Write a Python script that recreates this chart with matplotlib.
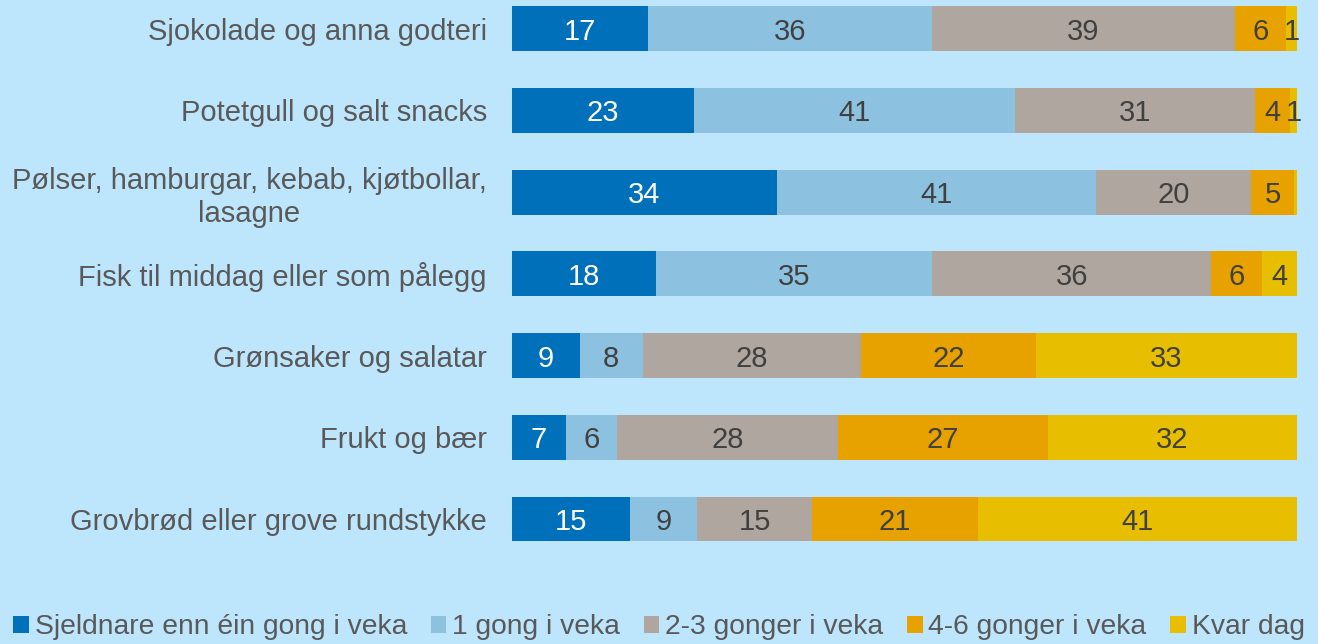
import matplotlib.pyplot as plt
import numpy as np
from matplotlib.patches import Patch

plt.rcParams['font.family'] = ['Liberation Sans', 'DejaVu Sans']

categories = [
    "Sjokolade og anna godteri",
    "Potetgull og salt snacks",
    "Pølser, hamburgar, kebab, kjøtbollar,\nlasagne",
    "Fisk til middag eller som pålegg",
    "Grønsaker og salatar",
    "Frukt og bær",
    "Grovbrød eller grove rundstykke",
]

series = [
    "Sjeldnare enn éin gong i veka",
    "1 gong i veka",
    "2-3 gonger i veka",
    "4-6 gonger i veka",
    "Kvar dag",
]

# per cent of respondents, one list per answer option
sjeldnare = [17.3, 23.2, 33.7, 18.3, 8.6, 6.9, 15.0]
en_gong = [36.2, 40.9, 40.7, 35.2, 8.1, 6.45, 8.6]
to_tre = [38.6, 30.6, 19.8, 35.6, 27.8, 28.2, 14.6]
fire_seks = [6.5, 4.4, 5.4, 6.5, 22.2, 26.7, 21.1]
kvar_dag = [1.4, 0.9, 0.4, 4.4, 33.3, 31.75, 40.7]

colors = ["#0070BA", "#8CC2DF", "#AEA69F", "#E8A200", "#E8BF00"]
text_colors = ["white", "#404040", "#404040", "#404040", "#404040"]
bg = "#BDE5FC"

values = np.array([sjeldnare, en_gong, to_tre, fire_seks, kvar_dag])

fig = plt.figure(figsize=(13.18, 6.44), dpi=100, facecolor=bg)
ax = fig.add_axes([512 / 1318, 0.156, 785 / 1318, 0.8374])
ax.set_facecolor(bg)

y = np.arange(len(categories))
left = np.zeros(len(categories))
for i, vals in enumerate(values):
    bars = ax.barh(y, vals, left=left, height=0.55, color=colors[i],
                   label=series[i])
    for b, v in zip(bars, vals):
        if round(v) >= 1:
            ax.text(b.get_x() + b.get_width() / 2, b.get_y() + b.get_height() / 2,
                    "%d" % round(v), ha='center', va='center_baseline',
                    fontsize=21, color=text_colors[i])
    left += vals

ax.set_xlim(0, 100)
ax.set_ylim(6.3, -0.3)
ax.set_yticks(y)
ax.set_yticklabels(categories, fontsize=21, color="#595959",
                   multialignment='center', linespacing=1.2)
ax.tick_params(axis='y', length=0, pad=18)
ax.set_xticks([])
for s in ax.spines.values():
    s.set_visible(False)

handles = [Patch(facecolor=c, edgecolor='none') for c in colors]
fig.legend(handles, series, loc='center', bbox_to_anchor=(0.5, 1 - 627 / 644),
           ncol=5, frameon=False, fontsize=20.3, labelcolor="#595959",
           handlelength=0.55, handleheight=0.55, handletextpad=0.2,
           columnspacing=0.85, borderaxespad=0)

fig.savefig("out.png", dpi=100, facecolor=bg)
